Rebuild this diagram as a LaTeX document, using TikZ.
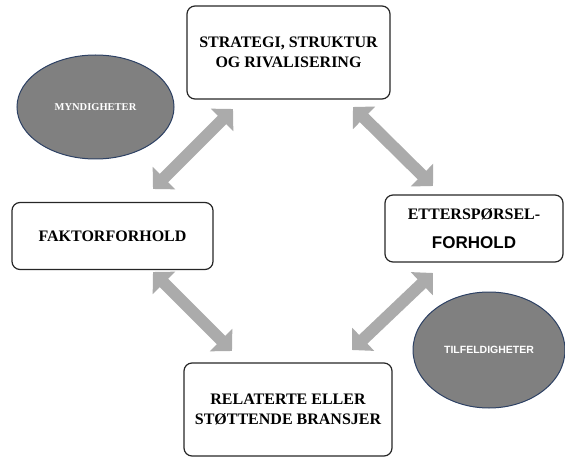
\documentclass[tikz,border=0pt]{standalone}
\usepackage{fontspec}
\setmainfont{Liberation Serif}
\newfontfamily\lsans{Liberation Sans}
\usetikzlibrary{arrows.meta,shapes.geometric}
\definecolor{arrowgray}{RGB}{171,171,171}
\definecolor{ellfill}{RGB}{128,128,128}
\definecolor{elldraw}{RGB}{45,65,100}
\begin{document}
\begin{tikzpicture}[x=1pt,y=-1pt,
  box/.style={draw=black!85, line width=1.2pt, rounded corners=8pt, align=center,
    font=\bfseries\fontsize{16}{20}\selectfont, inner sep=0pt},
  oval/.style={ellipse, draw=elldraw, fill=ellfill, line width=1pt, text=white, inner sep=0pt},
  dbl/.style={draw=arrowgray, line width=12pt,
    {Triangle[width=31pt,length=15.5pt]}-{Triangle[width=31pt,length=15.5pt]}}]
\useasboundingbox (0,0) rectangle (565,457);
\node[box, minimum width=203pt, minimum height=93pt] (strat) at (288.5,52.5)
  {STRATEGI, STRUKTUR\\OG RIVALISERING};
\node[box, minimum width=201pt, minimum height=67pt] (faktor) at (112.5,236)
  {FAKTORFORHOLD};
\node[box, minimum width=178pt, minimum height=67pt] (etter) at (474,228.5)
  {ETTERSPØRSEL-\\[9pt]{\lsans\bfseries\fontsize{17}{20}\selectfont FORHOLD}};
\node[box, minimum width=208pt, minimum height=93pt] (rel) at (288,409.5)
  {RELATERTE ELLER\\STØTTENDE BRANSJER};
\node[oval, minimum width=157pt, minimum height=104pt,
  font=\bfseries\fontsize{10.5}{12}\selectfont] (mynd) at (95.5,107) {MYNDIGHETER};
\node[oval, minimum width=152pt, minimum height=116pt,
  font=\lsans\bfseries\fontsize{10.5}{12}\selectfont] (tilf) at (489,350) {TILFELDIGHETER};
\coordinate (a1s) at (153,189);
\coordinate (a1e) at (233,109);
\coordinate (a2s) at (353,107);
\coordinate (a2e) at (433,186);
\coordinate (a3s) at (153,272);
\coordinate (a3e) at (232,351);
\coordinate (a4s) at (352,350);
\coordinate (a4e) at (433,273);
\draw[dbl] (a1s) -- (a1e);
\draw[dbl] (a2s) -- (a2e);
\draw[dbl] (a3s) -- (a3e);
\draw[dbl] (a4s) -- (a4e);
\end{tikzpicture}
\end{document}
